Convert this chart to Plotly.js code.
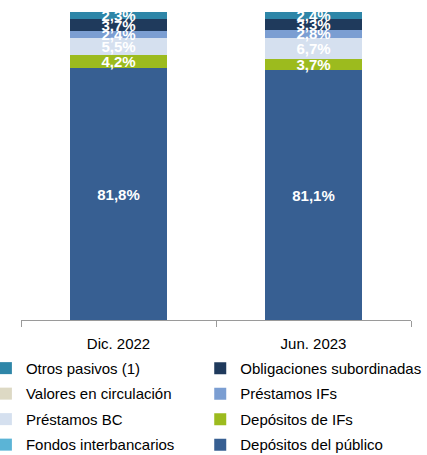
<!DOCTYPE html>
<html><head><meta charset="utf-8">
<script src="https://cdn.plot.ly/plotly-3.0.1.min.js"></script>
<style>html,body{margin:0;padding:0;background:#fff}#c{width:427px;height:455px}</style>
</head><body><div id="c"></div>
<script>
var categories = ['Dic. 2022', 'Jun. 2023'];
var depositosPublico = [81.8, 81.1];
var fondosInterbancarios = [0.0, 0.0];
var depositosIFs = [4.2, 3.7];
var prestamosBC = [5.5, 6.7];
var prestamosIFs = [2.4, 2.8];
var valoresCirculacion = [0.0, 0.0];
var obligacionesSub = [3.7, 3.3];
var otrosPasivos = [2.3, 2.4];

var series = [
  {name: 'Depósitos del público', y: depositosPublico, color: '#375F92', legend: 'legend2', rank: 4, label: true},
  {name: 'Fondos interbancarios', y: fondosInterbancarios, color: '#5BB4D6', legend: 'legend', rank: 4, label: false},
  {name: 'Depósitos de IFs', y: depositosIFs, color: '#9CBB1E', legend: 'legend2', rank: 3, label: true},
  {name: 'Préstamos BC', y: prestamosBC, color: '#D5E0EF', legend: 'legend', rank: 3, label: true},
  {name: 'Préstamos IFs', y: prestamosIFs, color: '#7B9ED2', legend: 'legend2', rank: 2, label: true},
  {name: 'Valores en circulación', y: valoresCirculacion, color: '#DDD9C4', legend: 'legend', rank: 2, label: false},
  {name: 'Obligaciones subordinadas', y: obligacionesSub, color: '#1F3A5C', legend: 'legend2', rank: 1, label: true},
  {name: 'Otros pasivos (1)', y: otrosPasivos, color: '#2E86A8', legend: 'legend', rank: 1, label: true}
];

var traces = series.map(function(s){
  return {
    type: 'bar', x: categories, y: s.y, name: s.name,
    legend: s.legend, legendgroup: s.name, legendrank: s.rank,
    marker: {color: s.color, line: {width: 0}},
    texttemplate: '%{y:.1f}%',
    textposition: s.label ? 'inside' : 'none',
    insidetextanchor: 'middle',
    constraintext: 'none',
    textangle: 0,
    textfont: {family: 'Liberation Sans, Arial, sans-serif', size: 15, color: '#ffffff', weight: 'bold'},
    hoverinfo: 'skip'
  };
});

var legFont = {family: 'Liberation Sans, Arial, sans-serif', size: 15, color: '#000'};
var layout = {
  width: 427, height: 455,
  margin: {l: 21, r: 16, t: 12, b: 135, autoexpand: false},
  barmode: 'stack', bargap: 0.5,
  separators: ',.',
  paper_bgcolor: '#fff', plot_bgcolor: '#fff',
  font: legFont,
  showlegend: true,
  xaxis: {
    type: 'category', range: [-0.5, 1.5], fixedrange: true,
    showline: true, linecolor: '#9a9a9a', linewidth: 1,
    ticks: 'outside', tickson: 'boundaries', ticklen: 6, tickcolor: '#9a9a9a',
    tickfont: {family: 'Liberation Sans, Arial, sans-serif', size: 15, color: '#000'},
    ticklabelstandoff: 10
  },
  yaxis: {range: [0, 100], visible: false, showgrid: false, zeroline: false, fixedrange: true},
  legend: {
    x: -0.09, xref: 'paper', xanchor: 'left', y: -0.1035, yanchor: 'top',
    orientation: 'v', traceorder: 'grouped', tracegroupgap: 3,
    font: legFont, bgcolor: 'rgba(0,0,0,0)'
  },
  legend2: {
    x: 0.4596, xref: 'paper', xanchor: 'left', y: -0.1035, yanchor: 'top',
    orientation: 'v', traceorder: 'grouped', tracegroupgap: 3,
    font: legFont, bgcolor: 'rgba(0,0,0,0)'
  }
};

Plotly.newPlot('c', traces, layout, {displayModeBar: false, staticPlot: true});
</script>
</body></html>
